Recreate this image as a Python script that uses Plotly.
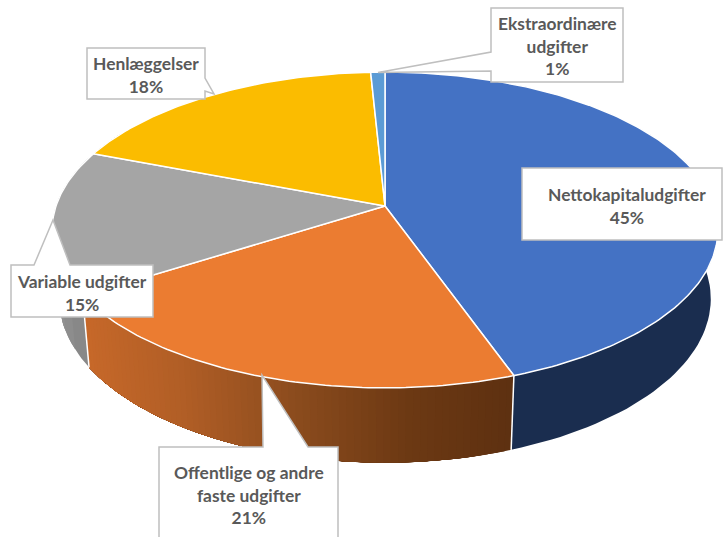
import numpy as np
import plotly.graph_objects as go

# ---- data (share of total, %) ----
categories = ["Nettokapitaludgifter", "Offentlige og andre<br>faste udgifter", "Variable udgifter",
              "Henlæggelser", "Ekstraordinære<br>udgifter"]
values = [44.55, 21.45, 14.8, 18.4, 0.8]
colors = ["#4472C4", "#EB7C31", "#A5A5A5", "#FBBC00", "#5B9BD5"]

# ---- projection of the tilted disc to page pixels ----
W, H = 723, 537
CX, CY = 385, 206
TOP = dict(cx=CX, cy=CY, bx=329, ay=154.3, k=0.1518)
LOW = dict(cx=CX, cy=274, bx=322, ay=160, k=0.1518)


def proj(theta_deg, d):
    t = np.radians(np.asarray(theta_deg, dtype=float))
    u, v = np.sin(t), np.cos(t)
    den = 1 + d["k"] * v
    return d["cx"] + d["bx"] * u / den, d["cy"] - d["ay"] * v / den


def mix(stops, f):
    f = min(max(f, 0), 1) * (len(stops) - 1)
    i = min(int(f), len(stops) - 2)
    a, b = stops[i], stops[i + 1]
    g = f - i
    return "rgb(%d,%d,%d)" % tuple(a[c] + (b[c] - a[c]) * g for c in range(3))


edges = np.concatenate([[0], np.cumsum(values)]) * 3.6

fig = go.Figure()


def poly(xs, ys, fill, line_color=None, width=0.0):
    fig.add_trace(go.Scatter(
        x=list(xs), y=list(ys), mode="lines", fill="toself", fillcolor=fill,
        line=dict(color=line_color or fill, width=width), hoverinfo="skip", showlegend=False))


def wall(a0, a1, color_fn, n):
    """Paint the rim band with overlapping layers, so no seams show between shades."""
    grid = np.linspace(a0, a1, n + 1)
    for a in grid[:-1]:
        arc = np.linspace(a, a1, 60)
        tx, ty = proj(arc, TOP)
        lx, ly = proj(arc, LOW)
        poly(np.r_[tx, lx[::-1], tx[0]], np.r_[ty, ly[::-1], ty[0]], color_fn(float(lx[0])))


# side walls (only the near part of the rim shows)
navy = lambda x: "#1A2D4F"
orange_stops = [(94, 49, 17), (110, 58, 20), (140, 76, 30), (176, 94, 38), (200, 105, 42)]
orange = lambda x: mix(orange_stops, (512 - x) / (512 - 87))
grey = lambda x: mix([(136, 136, 136), (150, 150, 150)], (90 - x) / 35)
wall(60, edges[1], navy, 1)
wall(edges[1], edges[2], orange, 70)
wall(edges[2], 300, grey, 10)

# white seams between wall sections
for e in edges[1:3]:
    x0, y0 = proj(e, TOP)
    x1, y1 = proj(e, LOW)
    fig.add_trace(go.Scatter(x=[x0, x1], y=[y0, y1], mode="lines",
                             line=dict(color="white", width=1.5), hoverinfo="skip", showlegend=False))

# top face
for i in range(len(values)):
    arc = np.linspace(edges[i], edges[i + 1], max(int(values[i] * 4), 6))
    ax, ay = proj(arc, TOP)
    poly(np.r_[CX, ax, CX], np.r_[CY, ay, CY], colors[i], "white", 1.5)

# ---- callouts ----
BORDER = "#BFBFBF"
callouts = [
    "M491,8 L623,8 L623,82 L491,82 L491,71 L378,72.5 L491,52 Z",
    "M522,168 L722,168 L722,240 L522,240 Z",
    "M87,48 L205,48 L205,78 L214,94 L205,91 L205,99 L87,99 Z",
    "M11,265 L34,265 L53,220 L70,265 L153,265 L153,317 L11,317 Z",
    "M159,447 L263,447 L262,375 L308,447 L338,447 L338,545 L159,545 Z",
]
shapes = [dict(type="path", path=p, xref="x", yref="y", fillcolor="white",
               line=dict(color=BORDER, width=1.5), layer="above") for p in callouts]

label_pos = [(627, 205.5), (248.5, 495), (82, 292.5), (146, 74.5), (557, 46)]
annotations = []
for name, v, (x, y) in zip(categories, values, label_pos):
    annotations.append(dict(
        x=x, y=y, xref="x", yref="y", xanchor="center", yanchor="middle", showarrow=False,
        text=f"<b>{name}<br>{round(v)}%</b>",
        font=dict(family="Lato", size=17.4, color="#595959"), align="center"))

fig.update_layout(
    width=W, height=H, margin=dict(l=0, r=0, t=0, b=0),
    paper_bgcolor="white", plot_bgcolor="white", showlegend=False,
    xaxis=dict(range=[0, W], visible=False, fixedrange=True),
    yaxis=dict(range=[H, 0], visible=False, fixedrange=True),
    shapes=shapes, annotations=annotations)

fig.write_html("out.html", config=dict(displayModeBar=False),
               post_script="document.body.style.margin='0';document.documentElement.style.overflow='hidden';")
